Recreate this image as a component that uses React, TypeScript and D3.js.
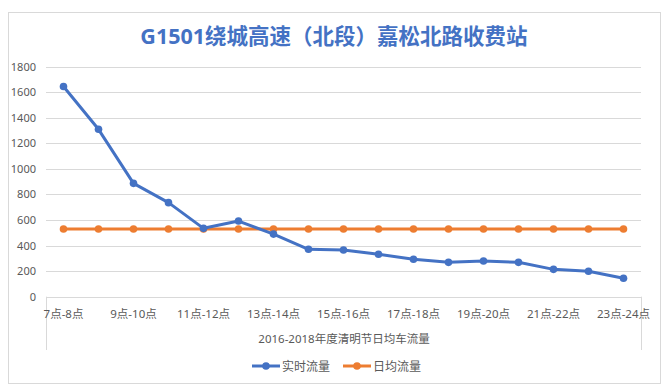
import React, { useEffect, useRef } from "react";
import * as d3 from "d3";

const categories = [
  "7点-8点", "8点-9点", "9点-10点", "10点-11点", "11点-12点", "12点-13点",
  "13点-14点", "14点-15点", "15点-16点", "16点-17点", "17点-18点", "18点-19点",
  "19点-20点", "20点-21点", "21点-22点", "22点-23点", "23点-24点",
];
const realtimeFlow = [1645, 1310, 887, 736, 535, 592, 490, 371, 365, 332, 293, 269, 279, 269, 214, 199, 144];
const dailyAvgFlow = [530, 530, 530, 530, 530, 530, 530, 530, 530, 530, 530, 530, 530, 530, 530, 530, 530];
const yTicks = [0, 200, 400, 600, 800, 1000, 1200, 1400, 1600, 1800];
const seriesNames = ["实时流量", "日均流量"];
const titleText = "G1501绕城高速（北段）嘉松北路收费站";
const axisTitle = "2016-2018年度清明节日均车流量";

const BLUE = "#4472C4";
const ORANGE = "#ED7D31";
const FONT = "'Noto Sans', 'Noto Sans CJK SC', sans-serif";

export default function App() {
  const ref = useRef<SVGSVGElement>(null);

  useEffect(() => {
    if (!ref.current) return;
    const svg = d3.select(ref.current);
    svg.selectAll("*").remove();

    const left = 46, right = 641, top = 66.7, bottom = 296.7;

    // chart frame
    svg.append("rect")
      .attr("x", 8.5).attr("y", 12.5)
      .attr("width", 652).attr("height", 371)
      .attr("fill", "#fff").attr("stroke", "#D9D9D9");

    svg.append("text")
      .attr("x", 334).attr("y", 44)
      .attr("text-anchor", "middle")
      .attr("font-family", FONT)
      .attr("font-weight", "bold")
      .attr("font-size", 21.5)
      .attr("fill", BLUE)
      .text(titleText);

    const x = d3.scaleBand<string>().domain(categories).range([left, right]);
    const y = d3.scaleLinear().domain([0, 1800]).range([bottom, top]);
    const cx = (i: number) => (x(categories[i]) as number) + x.bandwidth() / 2;

    // grid
    svg.append("g").selectAll("line")
      .data(yTicks)
      .enter()
      .append("line")
      .attr("x1", left).attr("x2", right)
      .attr("y1", (d: number) => Math.round(y(d)) + 0.5)
      .attr("y2", (d: number) => Math.round(y(d)) + 0.5)
      .attr("stroke", "#D9D9D9");

    svg.append("g").selectAll("text")
      .data(yTicks)
      .enter()
      .append("text")
      .attr("x", 36).attr("y", (d: number) => y(d) + 4)
      .attr("text-anchor", "end")
      .attr("font-family", FONT)
      .attr("font-size", 11)
      .attr("fill", "#595959")
      .text((d: number) => d);

    // category box lines
    [left, right].forEach((xx) => {
      svg.append("line")
        .attr("x1", xx + 0.5).attr("x2", xx + 0.5)
        .attr("y1", bottom).attr("y2", 350)
        .attr("stroke", "#D9D9D9");
    });

    svg.append("g").selectAll("text")
      .data(categories.filter((_, i) => i % 2 === 0))
      .enter()
      .append("text")
      .attr("x", (d: string) => (x(d) as number) + x.bandwidth() / 2)
      .attr("y", 318)
      .attr("text-anchor", "middle")
      .attr("font-family", FONT)
      .attr("font-size", 11.5)
      .attr("fill", "#595959")
      .text((d: string) => d);

    svg.append("text")
      .attr("x", 344).attr("y", 343)
      .attr("text-anchor", "middle")
      .attr("font-family", FONT)
      .attr("font-size", 11.5)
      .attr("fill", "#595959")
      .text(axisTitle);

    const series = [
      { name: seriesNames[0], values: realtimeFlow, color: BLUE },
      { name: seriesNames[1], values: dailyAvgFlow, color: ORANGE },
    ];
    const line = d3.line<number>().x((_, i) => cx(i)).y((d) => y(d));

    series.slice().reverse().forEach((s) => {
      svg.append("path")
        .datum(s.values)
        .attr("d", line)
        .attr("fill", "none")
        .attr("stroke", s.color)
        .attr("stroke-width", 3)
        .attr("stroke-linejoin", "round");
      svg.append("g").selectAll("circle")
        .data(s.values)
        .enter()
        .append("circle")
        .attr("cx", (_: number, i: number) => cx(i))
        .attr("cy", (d: number) => y(d))
        .attr("r", 3.8)
        .attr("fill", s.color);
    });

    // legend
    const legendX = [252, 343];
    series.forEach((s, i) => {
      const g = svg.append("g").attr("transform", `translate(${legendX[i]},366)`);
      g.append("line").attr("x1", 0).attr("x2", 28).attr("y1", 0).attr("y2", 0)
        .attr("stroke", s.color).attr("stroke-width", 3);
      g.append("circle").attr("cx", 14).attr("cy", 0).attr("r", 3.8).attr("fill", s.color);
      g.append("text").attr("x", 30).attr("y", 4.5)
        .attr("font-family", FONT).attr("font-size", 12).attr("fill", "#595959")
        .text(s.name);
    });
  }, []);

  return (
    <svg ref={ref} width={668} height={389}
      style={{ position: "absolute", left: 0, top: 0, background: "#fff" }} />
  );
}
